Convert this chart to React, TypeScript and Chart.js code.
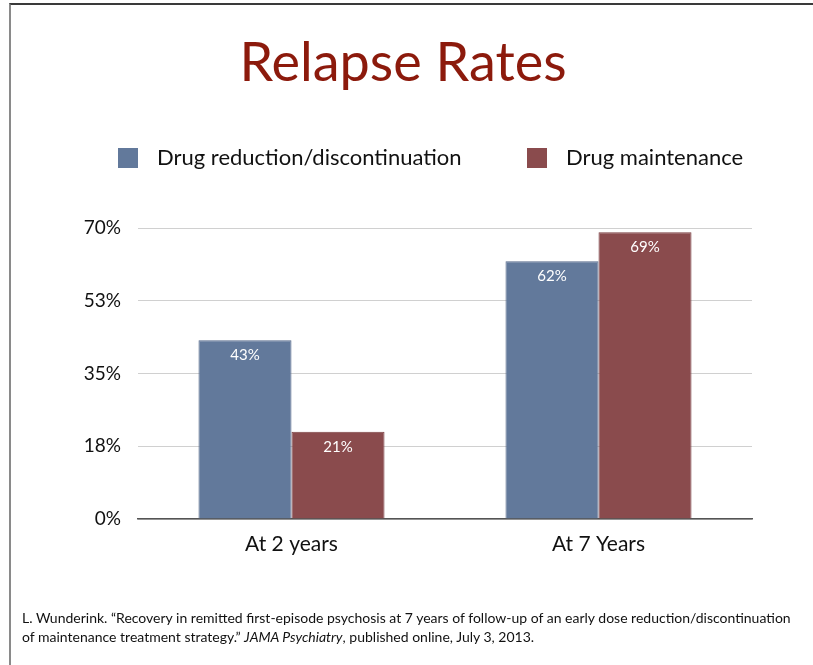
import React, { useEffect, useRef } from 'react';
import { Chart, registerables } from 'chart.js';

Chart.register(...registerables);

const titleText = 'Relapse Rates';
const categories = ['At 2 years', 'At 7 Years'];
const seriesLabels = ['Drug reduction/discontinuation', 'Drug maintenance'];
const reductionValues = [43, 62];
const maintenanceValues = [21, 69];
const yTickValues = [0, 17.5, 35, 52.5, 70];
const seriesColors = ['#62799b', '#8a4b4d'];
const seriesBorders = ['#55698a', '#7a3f41'];

const FONT = 'Lato, "Open Sans", "DejaVu Sans", sans-serif';

const decorPlugin = {
  id: 'decor',
  afterDatasetsDraw(chart: any) {
    const ctx = chart.ctx;
    ctx.save();
    ctx.fillStyle = '#ffffff';
    ctx.font = `15px ${FONT}`;
    ctx.textAlign = 'center';
    ctx.textBaseline = 'middle';
    chart.data.datasets.forEach((ds: any, i: number) => {
      const meta = chart.getDatasetMeta(i);
      meta.data.forEach((bar: any, j: number) => {
        ctx.fillText(`${ds.data[j]}%`, bar.x, bar.y + 15);
      });
    });
    ctx.restore();
  },
  afterDraw(chart: any) {
    const ctx = chart.ctx;
    ctx.save();
    // title
    ctx.fillStyle = '#8c1a0c';
    ctx.font = `54px ${FONT}`;
    ctx.textAlign = 'center';
    ctx.textBaseline = 'alphabetic';
    ctx.fillText(titleText, 403, 81);
    // legend
    const starts = [118, 527];
    ctx.font = `22px ${FONT}`;
    ctx.textAlign = 'left';
    ctx.textBaseline = 'middle';
    chart.data.datasets.forEach((ds: any, i: number) => {
      const x = starts[i];
      ctx.fillStyle = ds.backgroundColor;
      ctx.fillRect(x, 148, 20, 20);
      ctx.fillStyle = '#111111';
      ctx.fillText(ds.label, x + 39, 158);
    });
    ctx.restore();
  },
};

export default function App() {
  const canvasRef = useRef<HTMLCanvasElement | null>(null);

  useEffect(() => {
    if (!canvasRef.current) return;
    const chart = new Chart(canvasRef.current, {
      type: 'bar',
      data: {
        labels: categories,
        datasets: [
          {
            label: seriesLabels[0],
            data: reductionValues,
            backgroundColor: seriesColors[0],
            borderColor: seriesBorders[0],
            borderWidth: 1,
            categoryPercentage: 0.606,
            barPercentage: 1,
          },
          {
            label: seriesLabels[1],
            data: maintenanceValues,
            backgroundColor: seriesColors[1],
            borderColor: seriesBorders[1],
            borderWidth: 1,
            categoryPercentage: 0.606,
            barPercentage: 1,
          },
        ],
      },
      options: {
        responsive: false,
        animation: false,
        layout: { padding: { top: 228, right: 61, bottom: 106, left: 0 } },
        plugins: {
          legend: { display: false },
          title: { display: false },
          tooltip: { enabled: false },
        },
        scales: {
          x: {
            afterFit: (scale: any) => {
              scale.height = 40;
            },
            grid: { display: false, drawTicks: false },
            border: { display: true, color: '#555555', width: 1.5 },
            ticks: {
              padding: 13,
              color: '#111111',
              font: { family: FONT, size: 21 },
            },
          },
          y: {
            min: 0,
            max: 70,
            afterFit: (scale: any) => {
              scale.width = 138;
            },
            afterBuildTicks: (scale: any) => {
              scale.ticks = yTickValues.map((v) => ({ value: v }));
            },
            grid: { color: '#d0d0d0', lineWidth: 1, drawTicks: false },
            border: { display: false },
            ticks: {
              padding: 17,
              color: '#111111',
              font: { family: FONT, size: 19 },
              callback: (v: any) => `${Math.round(Number(v))}%`,
            },
          },
        },
      },
      plugins: [decorPlugin],
    });
    return () => chart.destroy();
  }, []);

  return (
    <div
      style={{
        position: 'absolute',
        left: 0,
        top: 0,
        width: 813,
        height: 665,
        background: '#ffffff',
        overflow: 'hidden',
      }}
    >
      <div
        style={{
          position: 'absolute',
          left: 9,
          top: 3,
          width: 804,
          height: 662,
          borderTop: '2px solid #3a3a3a',
          borderLeft: '2px solid #8a8a8a',
          boxSizing: 'border-box',
        }}
      />
      <canvas
        ref={canvasRef}
        width={813}
        height={665}
        style={{ position: 'absolute', left: 0, top: 0 }}
      />
      <div
        style={{
          position: 'absolute',
          left: 22,
          top: 608,
          fontFamily: FONT,
          fontSize: 14,
          lineHeight: '19px',
          color: '#111111',
          whiteSpace: 'nowrap',
        }}
      >
        <div>
          L. Wunderink. “Recovery in remitted first-episode psychosis at 7 years of follow-up of an early dose reduction/discontinuation
        </div>
        <div>
          of maintenance treatment strategy.” <i>JAMA Psychiatry</i>, published online, July 3, 2013.
        </div>
      </div>
    </div>
  );
}
